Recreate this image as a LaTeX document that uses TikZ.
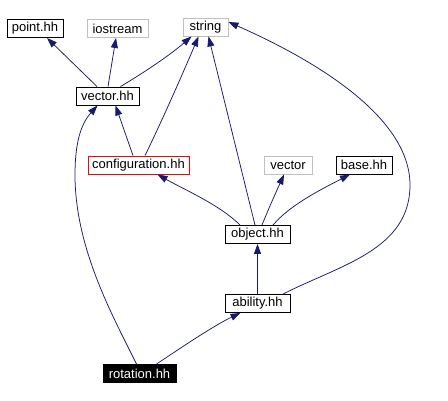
\documentclass[tikz,border=0pt]{standalone}
\usepackage{fontspec}
\setmainfont{Liberation Sans}
\usetikzlibrary{arrows.meta,calc}
\definecolor{edgeblue}{HTML}{191970}
\definecolor{lgray}{HTML}{C0C0C0}
\tikzset{
  box/.style={draw=black,line width=0.9pt,inner sep=0pt,minimum height=18pt,font=\fontsize{13}{15}\selectfont},
  gbox/.style={box,draw=lgray},
  rbox/.style={box,draw=red},
  bbox/.style={box,fill=black,text=white},
  edge/.style={draw=edgeblue,line width=0.75pt,{Triangle[length=10pt,width=7pt]}-}
}
\begin{document}
\begin{tikzpicture}[x=1pt,y=-1pt]
\useasboundingbox (0,0) rectangle (448,401);
\fill[white] (0,0) rectangle (448,401);
\node[box,minimum width=56pt] (point) at (35,28.5) {point.hh};
\node[gbox,minimum width=61pt] (ios) at (117.5,28.5) {iostream};
\node[gbox,minimum width=45pt] (str) at (205.5,27) {string};
\node[box,minimum width=63pt] (vec) at (107.5,96) {vector.hh};
\node[rbox,minimum width=101pt] (conf) at (138.5,165) {configuration.hh};
\node[gbox,minimum width=48pt] (svec) at (288,165) {vector};
\node[box,minimum width=56pt] (base) at (364,165) {base.hh};
\node[box,minimum width=65pt] (obj) at (257.5,234.5) {object.hh};
\node[box,minimum width=65pt] (abil) at (257.5,303.5) {ability.hh};
\node[bbox,minimum width=73pt] (rot) at (139.5,373.5) {rotation.hh};
% vector.hh edges
\draw[edge] ([xshift=12pt]point.south) -- ([xshift=-10.5pt]vec.north);
\draw[edge] ([xshift=-1.5pt]ios.south) -- ([xshift=0.5pt]vec.north);
\draw[edge] ([xshift=-14pt]str.south) .. controls (170,55) and (145,72) .. ([xshift=13pt]vec.north);
% configuration edges
\draw[edge] ([xshift=8pt]vec.south) -- ([xshift=-5.5pt]conf.north);
\draw[edge] ([xshift=-7pt]str.south) .. controls (180,80) and (160,125) .. ([xshift=6.5pt]conf.north);
% object edges
\draw[edge] ([xshift=19pt]conf.south) .. controls (185,190) and (220,205) .. ([xshift=-17.5pt]obj.north);
\draw[edge] ([xshift=3pt]str.south) -- ([xshift=-2.5pt]obj.north);
\draw[edge] ([xshift=-4pt]svec.south) .. controls (277,190) and (268,210) .. ([xshift=4.5pt]obj.north);
\draw[edge] ([xshift=-14pt]base.south) .. controls (320,190) and (290,205) .. ([xshift=15.5pt]obj.north);
% ability edges
\draw[edge] ([yshift=5pt]str.east) .. controls (310,58) and (410,115) .. (410,185)
   .. controls (410,250) and (340,265) .. ([xshift=25.5pt]abil.north);
\draw[edge] (obj.south) -- (abil.north);
% rotation edges
\draw[edge] ([xshift=-10pt]vec.south) .. controls (80,125) and (75,145) .. (75,175)
   .. controls (75,250) and (115,320) .. ([xshift=-3pt]rot.north);
\draw[edge] ([xshift=-17pt]abil.south) .. controls (215,325) and (185,345) .. ([xshift=17pt]rot.north);
\end{tikzpicture}
\end{document}
